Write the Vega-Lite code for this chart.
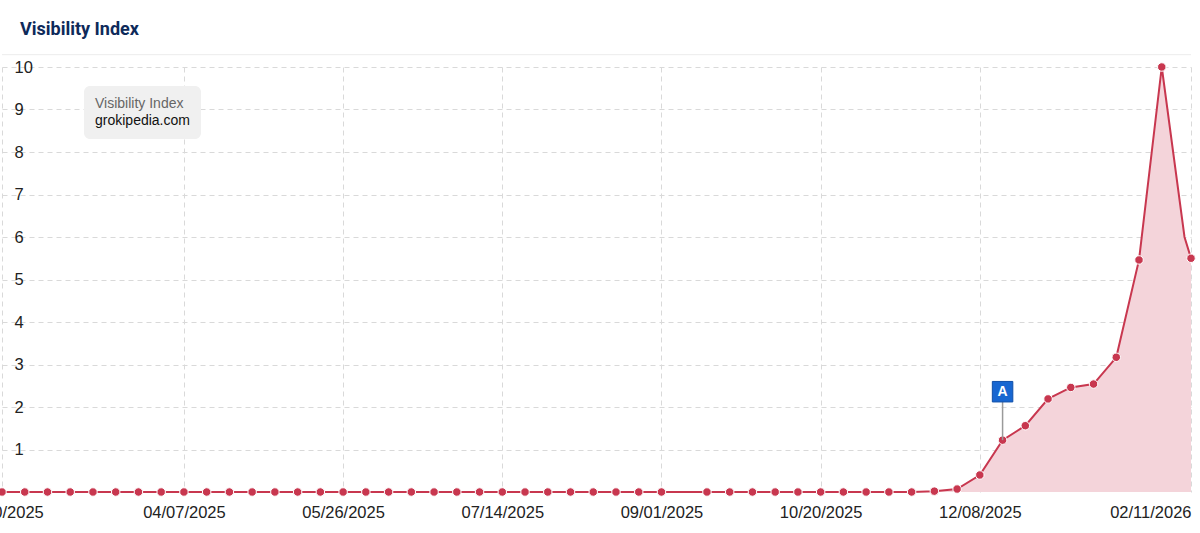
{
  "$schema": "https://vega.github.io/schema/vega-lite/v6.json",
  "width": 1189,
  "height": 425,
  "autosize": {"type": "none"},
  "padding": {"left": 2, "top": 67, "right": 9, "bottom": 41},
  "background": "white",
  "title": {
    "text": "Visibility Index",
    "anchor": "start",
    "frame": "group",
    "dx": 18,
    "offset": 1,
    "baseline": "alphabetic",
    "font": "Roboto",
    "fontSize": 18,
    "fontWeight": "bold",
    "color": "#0e2a5a"
  },
  "config": {
    "view": {"stroke": null},
    "axis": {"labelFont": "Liberation Sans", "labelFontSize": 16.5, "labelColor": "#222222"}
  },
  "datasets": {
    "main": [
      {"date": "2025-02-10", "value": 0, "site": "grokipedia.com"},
      {"date": "2025-02-17", "value": 0, "site": "grokipedia.com"},
      {"date": "2025-02-24", "value": 0, "site": "grokipedia.com"},
      {"date": "2025-03-03", "value": 0, "site": "grokipedia.com"},
      {"date": "2025-03-10", "value": 0, "site": "grokipedia.com"},
      {"date": "2025-03-17", "value": 0, "site": "grokipedia.com"},
      {"date": "2025-03-24", "value": 0, "site": "grokipedia.com"},
      {"date": "2025-03-31", "value": 0, "site": "grokipedia.com"},
      {"date": "2025-04-07", "value": 0, "site": "grokipedia.com"},
      {"date": "2025-04-14", "value": 0, "site": "grokipedia.com"},
      {"date": "2025-04-21", "value": 0, "site": "grokipedia.com"},
      {"date": "2025-04-28", "value": 0, "site": "grokipedia.com"},
      {"date": "2025-05-05", "value": 0, "site": "grokipedia.com"},
      {"date": "2025-05-12", "value": 0, "site": "grokipedia.com"},
      {"date": "2025-05-19", "value": 0, "site": "grokipedia.com"},
      {"date": "2025-05-26", "value": 0, "site": "grokipedia.com"},
      {"date": "2025-06-02", "value": 0, "site": "grokipedia.com"},
      {"date": "2025-06-09", "value": 0, "site": "grokipedia.com"},
      {"date": "2025-06-16", "value": 0, "site": "grokipedia.com"},
      {"date": "2025-06-23", "value": 0, "site": "grokipedia.com"},
      {"date": "2025-06-30", "value": 0, "site": "grokipedia.com"},
      {"date": "2025-07-07", "value": 0, "site": "grokipedia.com"},
      {"date": "2025-07-14", "value": 0, "site": "grokipedia.com"},
      {"date": "2025-07-21", "value": 0, "site": "grokipedia.com"},
      {"date": "2025-07-28", "value": 0, "site": "grokipedia.com"},
      {"date": "2025-08-04", "value": 0, "site": "grokipedia.com"},
      {"date": "2025-08-11", "value": 0, "site": "grokipedia.com"},
      {"date": "2025-08-18", "value": 0, "site": "grokipedia.com"},
      {"date": "2025-08-25", "value": 0, "site": "grokipedia.com"},
      {"date": "2025-09-01", "value": 0, "site": "grokipedia.com"},
      {"date": "2025-09-15", "value": 0, "site": "grokipedia.com"},
      {"date": "2025-09-22", "value": 0, "site": "grokipedia.com"},
      {"date": "2025-09-29", "value": 0, "site": "grokipedia.com"},
      {"date": "2025-10-06", "value": 0, "site": "grokipedia.com"},
      {"date": "2025-10-13", "value": 0, "site": "grokipedia.com"},
      {"date": "2025-10-20", "value": 0, "site": "grokipedia.com"},
      {"date": "2025-10-27", "value": 0, "site": "grokipedia.com"},
      {"date": "2025-11-03", "value": 0, "site": "grokipedia.com"},
      {"date": "2025-11-10", "value": 0, "site": "grokipedia.com"},
      {"date": "2025-11-17", "value": 0, "site": "grokipedia.com"},
      {"date": "2025-11-24", "value": 0.02, "site": "grokipedia.com"},
      {"date": "2025-12-01", "value": 0.07, "site": "grokipedia.com"},
      {"date": "2025-12-08", "value": 0.4, "site": "grokipedia.com"},
      {"date": "2025-12-15", "value": 1.22, "site": "grokipedia.com"},
      {"date": "2025-12-22", "value": 1.56, "site": "grokipedia.com"},
      {"date": "2025-12-29", "value": 2.19, "site": "grokipedia.com"},
      {"date": "2026-01-05", "value": 2.46, "site": "grokipedia.com"},
      {"date": "2026-01-12", "value": 2.54, "site": "grokipedia.com"},
      {"date": "2026-01-19", "value": 3.17, "site": "grokipedia.com"},
      {"date": "2026-01-26", "value": 5.46, "site": "grokipedia.com"},
      {"date": "2026-02-02", "value": 10.0, "site": "grokipedia.com"},
      {"date": "2026-02-09", "value": 6.0, "site": "grokipedia.com"},
      {"date": "2026-02-11", "value": 5.5, "site": "grokipedia.com"}
    ],
    "notes": [
      {"date": "2025-12-15", "value": 1.22, "box": 2.36, "label": "A"}
    ]
  },
  "layer": [
    {
      "data": {"values": [{}]},
      "mark": {"type": "rule", "color": "#ececec", "strokeWidth": 1, "clip": false},
      "encoding": {"y": {"datum": 10.29, "type": "quantitative"}}
    },
    {
      "data": {"name": "main"},
      "mark": {"type": "area", "color": "#f4d4da", "opacity": 1},
      "encoding": {
        "x": {
          "field": "date",
          "type": "temporal",
          "scale": {
            "type": "utc",
            "domain": [
              {"year": 2025, "month": 2, "date": 10, "utc": true},
              {"year": 2026, "month": 2, "date": 11, "utc": true}
            ]
          },
          "axis": {
            "title": null,
            "values": [
              {"year": 2025, "month": 2, "date": 10, "utc": true},
              {"year": 2025, "month": 4, "date": 7, "utc": true},
              {"year": 2025, "month": 5, "date": 26, "utc": true},
              {"year": 2025, "month": 7, "date": 14, "utc": true},
              {"year": 2025, "month": 9, "date": 1, "utc": true},
              {"year": 2025, "month": 10, "date": 20, "utc": true},
              {"year": 2025, "month": 12, "date": 8, "utc": true},
              {"year": 2026, "month": 2, "date": 11, "utc": true}
            ],
            "format": "%m/%d/%Y",
            "grid": true,
            "gridDash": [5, 4],
            "gridColor": "#d9d9d9",
            "domain": false,
            "ticks": false,
            "labelPadding": 12,
            "labelFlush": false,
            "labelOverlap": false,
            "labelAlign": {
              "condition": {"test": "datum.value > 1767225600000", "value": "right"},
              "value": "center"
            }
          }
        },
        "y": {
          "field": "value",
          "type": "quantitative",
          "scale": {"domain": [0, 10], "nice": false},
          "axis": {
            "title": null,
            "values": [1, 2, 3, 4, 5, 6, 7, 8, 9, 10],
            "grid": true,
            "gridDash": [5, 4],
            "gridColor": "#d9d9d9",
            "domain": false,
            "ticks": false,
            "labelAlign": "left",
            "labelBaseline": "middle",
            "labelPadding": -12
          }
        }
      }
    },
    {
      "data": {"name": "main"},
      "mark": {"type": "line", "strokeWidth": 2},
      "encoding": {
        "x": {"field": "date", "type": "temporal"},
        "y": {"field": "value", "type": "quantitative"},
        "color": {
          "field": "site",
          "type": "nominal",
          "scale": {"range": ["#c8374f"]},
          "legend": {
            "title": "Visibility Index",
            "orient": "none",
            "legendX": 82,
            "legendY": 19,
            "fillColor": "#f0f0f0",
            "cornerRadius": 6,
            "padding": 11,
            "titleFont": "Liberation Sans",
            "titleFontSize": 14,
            "titleFontWeight": "normal",
            "titleColor": "#666666",
            "titlePadding": 3,
            "labelFont": "Liberation Sans",
            "labelFontSize": 14,
            "labelColor": "#111111",
            "symbolSize": 1,
            "symbolOpacity": 0,
            "symbolStrokeWidth": 0.01,
            "labelOffset": -14
          }
        }
      }
    },
    {
      "data": {"name": "main"},
      "transform": [{"filter": "time(datum.date) !== 1770595200000"}],
      "mark": {"type": "point", "filled": true, "size": 72, "color": "#c8374f", "stroke": "#ffffff", "strokeWidth": 1, "opacity": 1},
      "encoding": {
        "x": {"field": "date", "type": "temporal"},
        "y": {"field": "value", "type": "quantitative"}
      }
    },
    {
      "data": {"name": "notes"},
      "mark": {"type": "rule", "color": "#9a9a9a", "strokeWidth": 1.5},
      "encoding": {
        "x": {"field": "date", "type": "temporal"},
        "y": {"field": "box", "type": "quantitative"},
        "y2": {"field": "value"}
      }
    },
    {
      "data": {"name": "notes"},
      "mark": {"type": "square", "size": 420, "color": "#1766d1", "opacity": 1, "stroke": "#0f4fa8", "strokeWidth": 1},
      "encoding": {
        "x": {"field": "date", "type": "temporal"},
        "y": {"field": "box", "type": "quantitative"}
      }
    },
    {
      "data": {"name": "notes"},
      "mark": {"type": "text", "color": "white", "font": "Liberation Sans", "fontSize": 14, "fontWeight": "bold", "baseline": "middle", "align": "center"},
      "encoding": {
        "x": {"field": "date", "type": "temporal"},
        "y": {"field": "box", "type": "quantitative"},
        "text": {"field": "label"}
      }
    }
  ]
}
